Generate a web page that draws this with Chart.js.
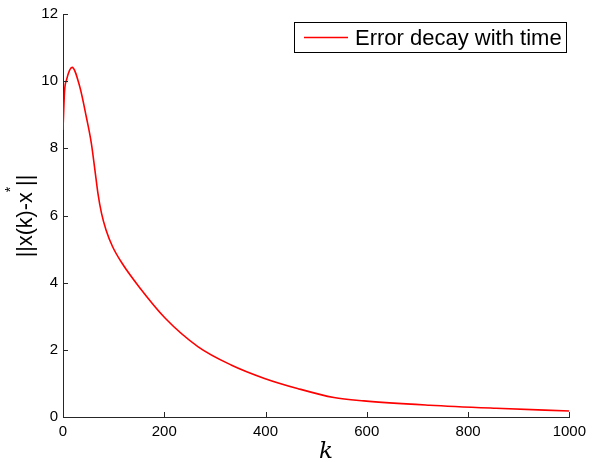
<!DOCTYPE html>
<html>
<head>
<meta charset="utf-8">
<script src="https://cdn.jsdelivr.net/npm/chart.js@4"></script>
<style>
    html, body { margin: 0; padding: 0; background: #fff; }
    #wrap { width: 592px; height: 462px; }
</style>
</head>
<body>
<div id="wrap"><canvas id="chartCanvas" width="592" height="462"></canvas></div>
<script>
// values
const kValues = [0, 3, 7, 18, 33, 46, 56, 63, 69, 76, 85, 98, 117, 150, 202, 267, 332, 398, 463, 535, 594, 724, 855, 1000];
const errValues = [8.55, 9.69, 10.04, 10.41, 9.84, 8.94, 8.15, 7.36, 6.66, 6.07, 5.57, 5.07, 4.57, 3.88, 2.94, 2.09, 1.55, 1.15, 0.85, 0.58, 0.48, 0.35, 0.26, 0.18];
const xTicks = [0, 200, 400, 600, 800, 1000];
const yTicks = [0, 2, 4, 6, 8, 10, 12];
const seriesLabel = "Error decay with time";

const points = kValues.map((k, i) => ({ x: k, y: errValues[i] }));

const SANS = "'Liberation Sans', Arial, sans-serif";

// inside tick marks, axis titles and boxed legend (matlab look)
const decorations = {
    id: "decorations",
    afterDraw(chart) {
        const ctx = chart.ctx;
        const xs = chart.scales.x;
        const ys = chart.scales.y;
        const area = chart.chartArea;

        ctx.save();
        ctx.strokeStyle = "#262626";
        ctx.lineWidth = 1;
        ctx.beginPath();
        xTicks.forEach(v => {
            const px = Math.round(xs.getPixelForValue(v)) + 0.5;
            ctx.moveTo(px, area.bottom);
            ctx.lineTo(px, area.bottom - 5);
        });
        yTicks.forEach(v => {
            const py = Math.round(ys.getPixelForValue(v)) + 0.5;
            ctx.moveTo(area.left, py);
            ctx.lineTo(area.left + 5, py);
        });
        ctx.stroke();

        // x title
        ctx.fillStyle = "#000";
        ctx.font = "italic 23px 'DejaVu Serif', serif";
        ctx.textAlign = "center";
        ctx.textBaseline = "alphabetic";
        ctx.fillText("k", 326, 458);

        // y title with raised star
        ctx.save();
        ctx.translate(32, 216);
        ctx.rotate(-Math.PI / 2);
        ctx.font = "21.5px " + SANS;
        const a = "||x(k)-x";
        const b = "||";
        const wa = ctx.measureText(a).width;
        const wb = ctx.measureText(b).width;
        ctx.font = "14px " + SANS;
        const ws = ctx.measureText("*").width + 1;
        const x0 = -(wa + ws + wb) / 2;
        ctx.textAlign = "left";
        ctx.font = "21.5px " + SANS;
        ctx.fillText(a, x0, 0);
        ctx.font = "14px " + SANS;
        ctx.fillText("*", x0 + wa, -17);
        ctx.font = "21.5px " + SANS;
        ctx.fillText(b, x0 + wa + ws, 0);
        ctx.restore();

        // legend
        const lx = 294.5, ly = 22.5, lw = 272, lh = 30;
        ctx.fillStyle = "#fff";
        ctx.fillRect(lx, ly, lw, lh);
        ctx.strokeStyle = "#000";
        ctx.lineWidth = 1;
        ctx.strokeRect(lx, ly, lw, lh);
        ctx.strokeStyle = "#ff0000";
        ctx.lineWidth = 1.5;
        ctx.beginPath();
        ctx.moveTo(304, ly + lh / 2);
        ctx.lineTo(348, ly + lh / 2);
        ctx.stroke();
        ctx.fillStyle = "#000";
        ctx.font = "22px " + SANS;
        ctx.textAlign = "left";
        ctx.textBaseline = "middle";
        ctx.fillText(seriesLabel, 355, ly + lh / 2 + 1);
        ctx.restore();
    }
};

const ctx = document.getElementById("chartCanvas").getContext("2d");

new Chart(ctx, {
    type: "line",
    data: {
        datasets: [{
            label: seriesLabel,
            data: points,
            borderColor: "#ff0000",
            borderWidth: 1.6,
            pointRadius: 0,
            fill: false,
            cubicInterpolationMode: "monotone"
        }]
    },
    options: {
        responsive: false,
        animation: false,
        devicePixelRatio: 1,
        layout: { padding: { top: 14, right: 18, left: 0, bottom: 0 } },
        plugins: {
            legend: { display: false },
            tooltip: { enabled: false }
        },
        scales: {
            x: {
                type: "linear",
                min: 0,
                max: 1000,
                afterFit: s => { s.height = 45; },
                afterBuildTicks: s => { s.ticks = xTicks.map(v => ({ value: v })); },
                grid: { display: false, drawTicks: false },
                border: { display: true, color: "#262626", width: 1 },
                ticks: {
                    color: "#000",
                    padding: 6,
                    maxRotation: 0,
                    callback: v => String(v),
                    font: { family: SANS, size: 15 }
                }
            },
            y: {
                type: "linear",
                min: 0,
                max: 12,
                afterFit: s => { s.width = 63; },
                afterBuildTicks: s => { s.ticks = yTicks.map(v => ({ value: v })); },
                grid: { display: false, drawTicks: false },
                border: { display: true, color: "#262626", width: 1 },
                ticks: {
                    color: "#000",
                    padding: 5,
                    callback: v => String(v),
                    font: { family: SANS, size: 15 }
                }
            }
        }
    },
    plugins: [decorations]
});
</script>
</body>
</html>
